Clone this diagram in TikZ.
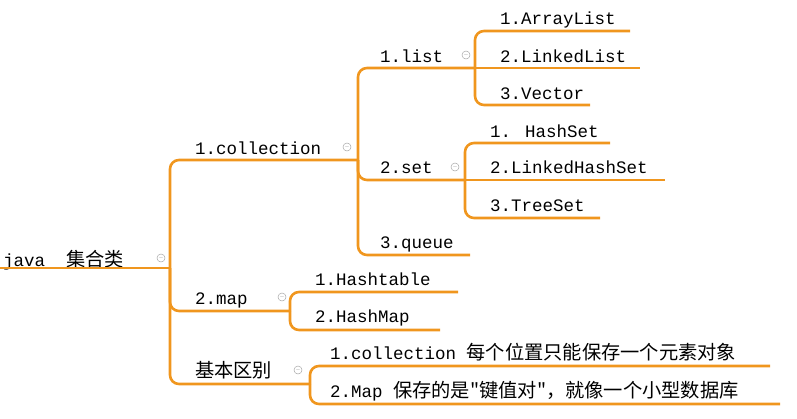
\documentclass[tikz,border=0pt]{standalone}
\usepackage{fontspec}
\setmainfont{Liberation Mono}
\newfontfamily\cjk[Scale=1.1]{Noto Sans CJK SC}
\definecolor{org}{RGB}{240,150,30}
\begin{document}
\begin{tikzpicture}[x=1pt,y=-1pt,
  lbl/.style={anchor=base west,inner sep=0pt,font=\fontsize{17.5}{19}\selectfont},
  ln/.style={draw=org,line width=2.6pt,rounded corners=9pt},
  col/.style={circle,draw=gray!70,inner sep=0pt,minimum size=8pt,line width=0.5pt,
    label={[inner sep=0pt,font=\tiny,gray]center:$-$}}]
\useasboundingbox (0,0) rectangle (797,418);
% texts
\node[lbl] (root) at (3,266) {java\hspace{1.2em}{\cjk 集合类}};
\node[lbl] (c) at (195,154) {1.collection};
\node[lbl] (list) at (380,62) {1.list};
\node[lbl] (al) at (500,24) {1.ArrayList};
\node[lbl] (ll) at (500,62) {2.LinkedList};
\node[lbl] (ve) at (500,99) {3.Vector};
\node[lbl] (set) at (380,173) {2.set};
\node[lbl] (hs) at (490,137) {1. HashSet};
\node[lbl] (lhs) at (490,173) {2.LinkedHashSet};
\node[lbl] (ts) at (490,211) {3.TreeSet};
\node[lbl] (q) at (380,248) {3.queue};
\node[lbl] (map) at (195,304) {2.map};
\node[lbl] (ht) at (315,285) {1.Hashtable};
\node[lbl] (hm) at (315,322) {2.HashMap};
\node[lbl] (jb) at (195,377) {\cjk 基本区别};
\node[lbl] (d1) at (330,359) {1.collection {\cjk 每个位置只能保存一个元素对象}};
\node[lbl] (d2) at (330,397) {2.Map {\cjk 保存的是"键值对"，就像一个小型数据库}};
% underlines / connectors
\coordinate (rE) at (170,268);
\draw[ln] (0,268) -- (rE);
\draw[ln] (rE) -- (170,160) -- (358,160);
\draw[ln] (rE) -- (170,311) -- (290,311);
\draw[ln] (rE) -- (170,384) -- (310,384);
\coordinate (cE) at (358,160);
\draw[ln] (cE) -- (358,68) -- (475,68);
\draw[ln] (cE) -- (358,180) -- (465,180);
\draw[ln] (cE) -- (358,255) -- (470,255);
\coordinate (lE) at (475,68);
\draw[ln] (lE) -- (475,31) -- (630,31);
\draw[ln] (lE) -- (640,68);
\draw[ln] (lE) -- (475,105) -- (590,105);
\coordinate (sE) at (465,180);
\draw[ln] (sE) -- (465,143) -- (610,143);
\draw[ln] (sE) -- (665,180);
\draw[ln] (sE) -- (465,218) -- (600,218);
\coordinate (mE) at (290,311);
\draw[ln] (mE) -- (290,292) -- (458,292);
\draw[ln] (mE) -- (290,330) -- (440,330);
\coordinate (jE) at (310,384);
\draw[ln] (jE) -- (310,366) -- (770,366);
\draw[ln] (jE) -- (310,404) -- (780,404);
% collapse icons
\node[col] at (161,258) {};
\node[col] at (347,147) {};
\node[col] at (466,55) {};
\node[col] at (455,167) {};
\node[col] at (282,297) {};
\node[col] at (298,370) {};
\end{tikzpicture}
\end{document}
